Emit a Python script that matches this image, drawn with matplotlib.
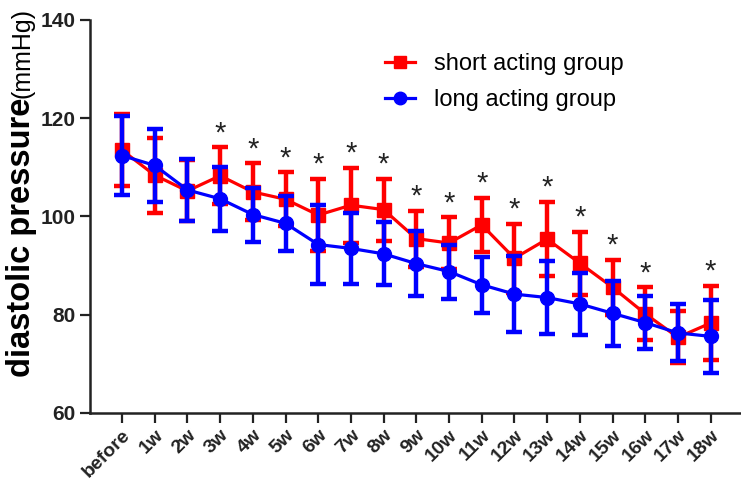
import numpy as np
import matplotlib
matplotlib.use('Agg')
import matplotlib.pyplot as plt
from matplotlib.lines import Line2D

plt.rcParams['font.family'] = ['Liberation Sans', 'DejaVu Sans']

# time points
labels = ['before', '1w', '2w', '3w', '4w', '5w', '6w', '7w', '8w', '9w',
          '10w', '11w', '12w', '13w', '14w', '15w', '16w', '17w', '18w']

# short acting group (mean, sd)
short_mean = [113.5, 108.4, 105.2, 108.3, 105.0, 103.5, 100.3, 102.3, 101.4, 95.5,
              94.6, 98.3, 91.5, 95.4, 90.5, 85.6, 80.2, 75.4, 78.3]
short_sd = [7.3, 7.6, 6.2, 5.8, 5.8, 5.5, 7.4, 7.6, 6.3, 5.7,
            5.2, 5.5, 7.0, 7.6, 6.4, 5.6, 5.4, 5.3, 7.6]

# long acting group (mean, sd)
long_mean = [112.4, 110.4, 105.4, 103.6, 100.4, 98.6, 94.3, 93.5, 92.4, 90.4,
             88.8, 86.1, 84.2, 83.5, 82.2, 80.3, 78.4, 76.3, 75.6]
long_sd = [8.0, 7.5, 6.3, 6.5, 5.5, 5.6, 8.0, 7.3, 6.4, 6.6,
           5.5, 5.7, 7.8, 7.4, 6.4, 6.6, 5.4, 5.8, 7.4]

# time points marked as significant
star_idx = [3, 4, 5, 6, 7, 8, 9, 10, 11, 12, 13, 14, 15, 16, 18]

x = np.arange(len(labels))

fig = plt.figure(figsize=(7.41, 4.83), dpi=100)
ax = fig.add_axes([90/741, 70/483, 651/741, 393/483])

ax.errorbar(x, short_mean, yerr=short_sd, color='#ff0000', ecolor='#ff0000',
            marker='s', markersize=10, linewidth=2.3, elinewidth=3.2,
            capsize=6, capthick=3.2, zorder=2)
ax.errorbar(x, long_mean, yerr=long_sd, color='#0000ff', ecolor='#0000ff',
            marker='o', markersize=10, linewidth=2.3, elinewidth=3.2,
            capsize=6, capthick=3.2, zorder=3)

for i in star_idx:
    ax.annotate('*', (x[i], short_mean[i] + short_sd[i]), xytext=(0, 0),
                textcoords='offset points', ha='center', va='bottom',
                fontsize=21, color='#222222')

ax.set_xlim(-0.98, 18.93)
ax.set_ylim(60, 140)
ax.set_yticks([60, 80, 100, 120, 140])
ax.set_xticks(x)
ax.set_xticklabels(labels, rotation=45, ha='right', rotation_mode='anchor',
                   fontsize=14, fontweight='bold')
for lab in ax.get_yticklabels():
    lab.set_fontweight('bold')
ax.tick_params(axis='y', labelsize=15, length=7, width=1.6, colors='#222222')
ax.tick_params(axis='x', length=7, width=1.6, colors='#222222', pad=3)

for s in ['top', 'right']:
    ax.spines[s].set_visible(False)
for s in ['left', 'bottom']:
    ax.spines[s].set_linewidth(1.8)
    ax.spines[s].set_color('#222222')

# y label: bold part, then smaller unit right after it
t1 = fig.text(0.029, 106/483, 'diastolic pressure', rotation=90, ha='center',
              va='bottom', fontsize=23.5, fontweight='bold')
fig.canvas.draw()
bb = t1.get_window_extent()
fig.text(0.031, bb.y1 / fig.bbox.height, '(mmHg)', rotation=90, ha='center',
         va='bottom', fontsize=18)

handles = [Line2D([], [], color='#ff0000', marker='s', markersize=9, linewidth=2.3),
           Line2D([], [], color='#0000ff', marker='o', markersize=9, linewidth=2.3)]
ax.legend(handles, ['short acting group', 'long acting group'],
          loc='upper left', bbox_to_anchor=(0.42, 0.97), frameon=False,
          fontsize=17, handlelength=1.3, handletextpad=0.8, labelspacing=0.6)

plt.savefig('out.png', dpi=100)
